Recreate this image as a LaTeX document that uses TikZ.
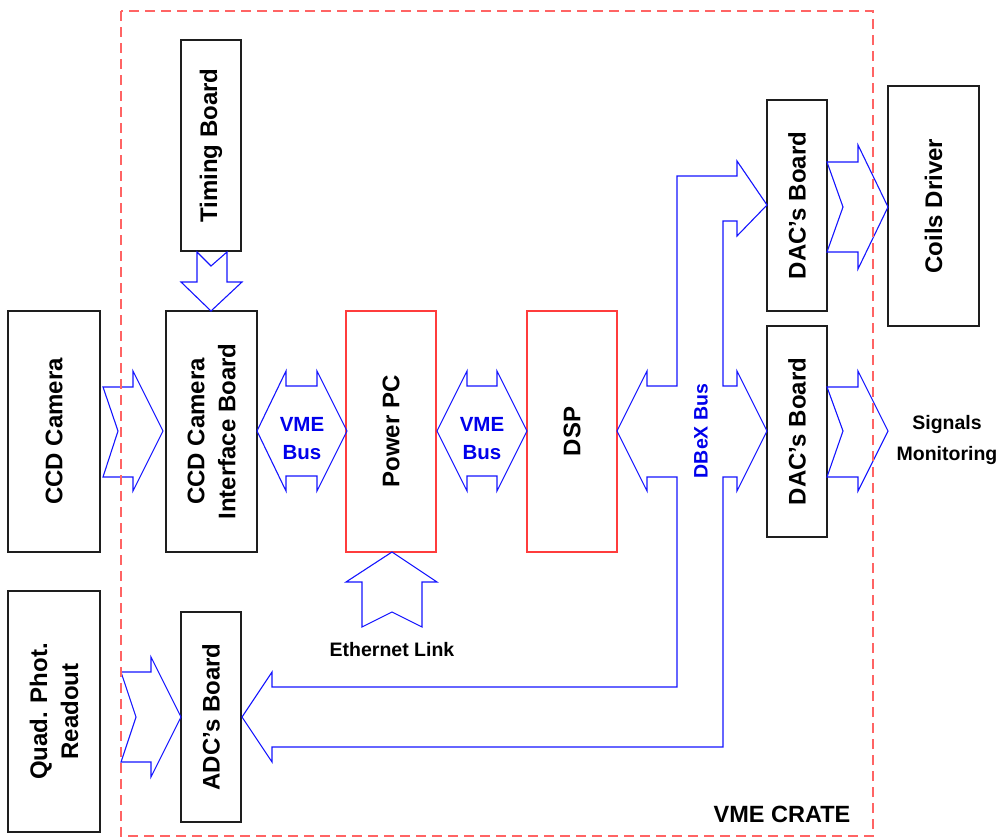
\documentclass[tikz,border=0pt]{standalone}
\usepackage{fontspec}
\setmainfont{Liberation Sans}
\definecolor{boxc}{RGB}{30,30,30}
\definecolor{redc}{RGB}{255,60,60}
\definecolor{cratec}{RGB}{255,100,100}
\definecolor{arrc}{RGB}{20,20,255}
\definecolor{bluetxt}{RGB}{0,0,235}
\newcommand\lblfont{\bfseries\fontsize{19.5}{31}\selectfont}
\newcommand\boxfont{\bfseries\fontsize{24}{31}\selectfont}
\newcommand\bigfont{\bfseries\fontsize{23.5}{28}\selectfont}
\begin{document}
\begin{tikzpicture}[x=1pt,y=-1pt,
  box/.style={draw=boxc, line width=1.3pt, inner sep=0pt, align=center, font=\boxfont, rotate=90},
  redbox/.style={box, draw=redc},
  barrow/.style={draw=arrc, line width=1.1pt, line join=miter},
  lbl/.style={font=\lblfont, align=center, inner sep=0pt},
  bluelbl/.style={lbl, text=bluetxt, font=\bfseries\fontsize{20.5}{28}\selectfont}]
\useasboundingbox (0,0) rectangle (1002,838);
% boxes
\node[box, minimum width=211, minimum height=60] (timing) at (211,145.5) {Timing Board};
\node[box, minimum width=241, minimum height=92] (ccd) at (54,431.5) {CCD Camera};
\node[box, minimum width=241, minimum height=91] (ccdif) at (211.5,431.5) {CCD Camera\\Interface Board};
\node[redbox, minimum width=241, minimum height=90] (ppc) at (391,431.5) {Power PC};
\node[redbox, minimum width=241, minimum height=90] (dsp) at (572,431.5) {DSP};
\node[box, minimum width=211, minimum height=60] (dac1) at (797,205.5) {DAC’s Board};
\node[box, minimum width=211, minimum height=60] (dac2) at (797,431.5) {DAC’s Board};
\node[box, minimum width=240, minimum height=91] (coils) at (933.5,206) {Coils Driver};
\node[box, minimum width=241, minimum height=92] (quad) at (54,711.5) {Quad. Phot.\\Readout};
\node[box, minimum width=210, minimum height=60] (adc) at (211,717) {ADC’s Board};
% block arrows
% CCD camera -> interface
\draw[barrow] (103,387) -- (133,387) -- (133,371) -- (163,431) -- (133,491) -- (133,477) -- (103,477) -- (118,431) -- cycle;
% timing -> interface
\draw[barrow] (197,252) -- (211,266) -- (227,252) -- (227,282) -- (242,282) -- (211,311) -- (181,282) -- (197,282) -- cycle;
% VME bus 1
\draw[barrow] (257,431) -- (286,371) -- (286,386) -- (317,386) -- (317,371) -- (347,431) -- (317,491) -- (317,476) -- (286,476) -- (286,491) -- cycle;
% VME bus 2
\draw[barrow] (437,431) -- (467,371) -- (467,386) -- (497,386) -- (497,371) -- (527,431) -- (497,491) -- (497,476) -- (467,476) -- (467,491) -- cycle;
% DBeX bus
\draw[barrow] (617,431) -- (647,371) -- (647,386) -- (677,386) -- (677,176) -- (737,176) -- (737,161) -- (767,205) -- (737,236) -- (737,221) -- (723,221) -- (723,386) -- (737,386) -- (737,371) -- (767,431) -- (737,491) -- (737,477) -- (723,477) -- (723,747) -- (272,747) -- (272,762) -- (242,717) -- (272,672) -- (272,687) -- (677,687) -- (677,477) -- (647,477) -- (647,491) -- cycle;
% Quad -> ADC
\draw[barrow] (121,672) -- (151,672) -- (151,657) -- (181,717) -- (151,777) -- (151,762) -- (121,762) -- (136,717) -- cycle;
% DAC1 -> Coils
\draw[barrow] (827,162) -- (858,162) -- (858,145) -- (888,207) -- (858,269) -- (858,252) -- (827,252) -- (843,207) -- cycle;
% DAC2 -> Signals
\draw[barrow] (827,387) -- (858,387) -- (858,371) -- (888,431) -- (858,491) -- (858,477) -- (827,477) -- (843,431) -- cycle;
% Ethernet -> Power PC
\draw[barrow] (392,552) -- (437,582) -- (422,582) -- (422,627) -- (392,612) -- (362,627) -- (362,582) -- (346,582) -- cycle;
% labels
\node[bluelbl] (vme1) at (302,439) {VME\\Bus};
\node[bluelbl] (vme2) at (482,439) {VME\\Bus};
\node[bluelbl, rotate=90, font=\bfseries\fontsize{19.5}{28}\selectfont] (dbex) at (701,431) {DBeX Bus};
\node[lbl] (sig) at (947,440) {Signals\\Monitoring};
\node[lbl] (eth) at (392,650) {Ethernet Link};
\node[lbl, font=\bigfont] (crate) at (782,814) {VME CRATE};
% crate
\draw[draw=cratec, line width=1.3pt, dash pattern=on 10pt off 6pt] (121,11) rectangle (873,836);
\end{tikzpicture}
\end{document}
